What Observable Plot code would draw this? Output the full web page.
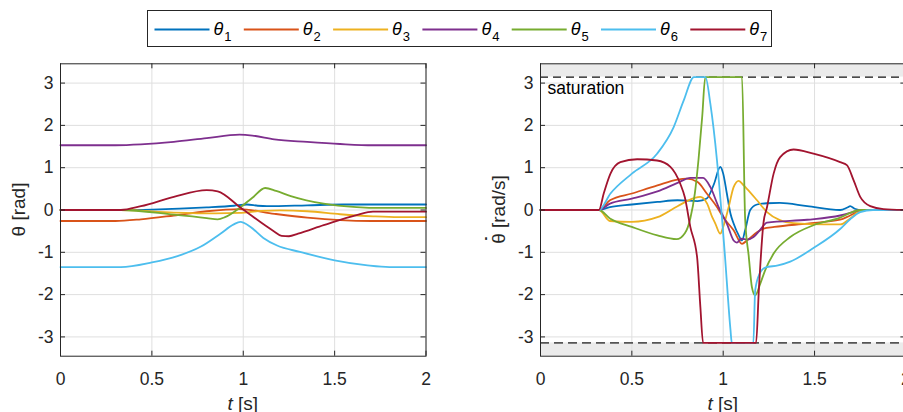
<!DOCTYPE html>
<html>
<head>
<meta charset="utf-8">
<script src="https://cdn.jsdelivr.net/npm/d3@7"></script>
<script src="https://cdn.jsdelivr.net/npm/@observablehq/plot@0.6"></script>
<style>
  body { margin: 0; background: #fff; }
  #wrap { position: relative; width: 903px; height: 412px; overflow: hidden; background: #fff; font-family: "Liberation Sans", Arial, sans-serif; }
  #legend { position: absolute; left: 0; top: 0; }
  #left { position: absolute; left: 0; top: 55px; width: 480px; }
  #right { position: absolute; left: 480px; top: 55px; width: 440px; }
  svg { max-width: none !important; }
</style>
</head>
<body>
<div id="wrap">
  <div id="legend"></div>
  <div id="left"></div>
  <div id="right"></div>
</div>
<script>
// ---------- data ----------
const seriesLabels = ["1", "2", "3", "4", "5", "6", "7"];
const colors = ["#0072BD", "#D95319", "#EDB120", "#7E2F8E", "#77AC30", "#4DBEEE", "#A2142F"];
const xTicks = [0, 0.5, 1, 1.5, 2];
const yTicks = [-3, -2, -1, 0, 1, 2, 3];
const yLimit = 1.1 * Math.PI;
const satLimit = Math.PI;
const satLabel = "saturation";

// joint positions theta [rad]  ([t, value])
const theta1 = [[0,0],[0.35,0],[0.5,0.01],[0.8,0.06],[0.95,0.1],[1.02,0.13],[1.08,0.1],[1.13,0.09],[1.35,0.11],[1.55,0.13],[2,0.13]];
const theta2 = [[0,-0.26],[0.3,-0.26],[0.44,-0.22],[0.62,-0.13],[0.8,-0.03],[0.98,0.02],[1.17,-0.09],[1.35,-0.18],[1.53,-0.24],[1.7,-0.26],[2,-0.26]];
const theta3 = [[0,0],[0.33,0],[0.62,-0.06],[0.85,-0.08],[0.98,-0.07],[1.1,-0.02],[1.2,-0.01],[1.35,-0.03],[1.53,-0.1],[1.71,-0.15],[1.85,-0.17],[2,-0.17]];
const theta4 = [[0,1.53],[0.3,1.53],[0.44,1.55],[0.62,1.61],[0.8,1.7],[0.98,1.78],[1.05,1.76],[1.17,1.67],[1.35,1.61],[1.53,1.56],[1.71,1.53],[2,1.53]];
const theta5 = [[0,0],[0.33,0],[0.62,-0.11],[0.8,-0.19],[0.86,-0.22],[0.9,-0.17],[0.98,0.05],[1.05,0.29],[1.12,0.52],[1.18,0.45],[1.26,0.33],[1.44,0.15],[1.62,0.07],[1.75,0.05],[2,0.05]];
const theta6 = [[0,-1.35],[0.33,-1.35],[0.5,-1.24],[0.64,-1.09],[0.766,-0.87],[0.875,-0.56],[0.948,-0.34],[0.984,-0.28],[1.04,-0.4],[1.11,-0.66],[1.185,-0.84],[1.31,-0.99],[1.5,-1.19],[1.68,-1.31],[1.8,-1.35],[2,-1.35]];
const theta7 = [[0,0],[0.33,0],[0.44,0.09],[0.62,0.31],[0.8,0.47],[0.86,0.44],[0.984,0.06],[1.167,-0.5],[1.21,-0.61],[1.25,-0.62],[1.3,-0.56],[1.44,-0.36],[1.62,-0.12],[1.71,-0.04],[2,-0.04]];

// joint velocities theta-dot [rad/s]
const dtheta1 = [[0,0],[0.32,0],[0.38,0.07],[0.5,0.13],[0.64,0.19],[0.75,0.23],[0.86,0.21],[0.91,0.27],[0.95,0.62],[0.984,1.02],[1.0,0.86],[1.02,0.39],[1.04,-0.09],[1.057,-0.32],[1.085,-0.6],[1.103,-0.72],[1.12,-0.48],[1.148,0],[1.185,0.13],[1.24,0.16],[1.31,0.17],[1.46,0.09],[1.64,0],[1.68,0.06],[1.695,0.09],[1.72,0.03],[1.76,0],[2,0]];
const dtheta2 = [[0,0],[0.32,0],[0.38,0.23],[0.5,0.39],[0.64,0.58],[0.75,0.72],[0.8,0.74],[0.86,0.66],[0.91,0.39],[0.966,0.07],[1.0,-0.17],[1.057,-0.48],[1.103,-0.8],[1.13,-0.72],[1.187,-0.52],[1.22,-0.44],[1.28,-0.4],[1.46,-0.32],[1.64,-0.23],[1.695,-0.13],[1.77,0],[2,0]];
const dtheta3 = [[0,0],[0.32,0],[0.38,-0.26],[0.5,-0.28],[0.64,-0.17],[0.75,0.09],[0.84,0.28],[0.875,0.31],[0.912,0.15],[0.94,-0.17],[0.957,-0.32],[0.984,-0.56],[1.0,-0.4],[1.03,0.07],[1.057,0.54],[1.085,0.69],[1.112,0.58],[1.13,0.5],[1.185,0.23],[1.24,-0.05],[1.31,-0.24],[1.385,-0.31],[1.55,-0.34],[1.64,-0.34],[1.695,-0.2],[1.76,0],[2,0]];
const dtheta4 = [[0,0],[0.32,0],[0.38,0.15],[0.5,0.27],[0.64,0.44],[0.75,0.64],[0.82,0.76],[0.89,0.76],[0.93,0.54],[0.975,0.07],[1.02,-0.32],[1.057,-0.72],[1.075,-0.77],[1.1,-0.68],[1.13,-0.7],[1.166,-0.64],[1.2,-0.48],[1.24,-0.3],[1.46,-0.23],[1.64,-0.13],[1.695,-0.07],[1.75,0],[2,0]];
const dtheta5 = [[0,0],[0.32,0],[0.38,-0.2],[0.5,-0.4],[0.64,-0.6],[0.745,-0.69],[0.79,-0.55],[0.82,-0.2],[0.845,0.4],[0.865,1.2],[0.885,2.2],[0.902,3.1416],[1.103,3.1416],[1.12,-0.2],[1.14,-1.1],[1.157,-1.82],[1.175,-2.02],[1.203,-1.74],[1.23,-1.42],[1.276,-1.03],[1.367,-0.64],[1.494,-0.36],[1.64,-0.18],[1.695,-0.07],[1.75,0],[2,0]];
const dtheta6 = [[0,0],[0.32,0],[0.383,0.39],[0.5,0.86],[0.638,1.33],[0.729,1.96],[0.784,2.59],[0.84,3.1416],[0.903,3.1416],[0.93,2.5],[0.966,1.17],[0.993,-0.17],[1.01,-1.11],[1.04,-2.84],[1.047,-3.1416],[1.165,-3.1416],[1.175,-1.9],[1.2,-1.5],[1.23,-1.36],[1.3,-1.31],[1.367,-1.22],[1.494,-0.9],[1.64,-0.45],[1.695,-0.22],[1.75,-0.05],[1.82,0],[2,0]];
const dtheta7 = [[0,0],[0.32,0],[0.346,0.39],[0.383,0.86],[0.437,1.13],[0.529,1.2],[0.638,1.17],[0.711,1.02],[0.765,0.62],[0.79,0.3],[0.82,-0.4],[0.857,-1.11],[0.875,-2.29],[0.89,-3.1416],[1.18,-3.1416],[1.195,-1.9],[1.22,-0.32],[1.24,0.07],[1.276,0.86],[1.312,1.25],[1.385,1.43],[1.494,1.33],[1.64,1.13],[1.677,1.06],[1.714,0.7],[1.75,0.31],[1.805,0.09],[1.877,0.02],[2,0]];

const thetaSeries = [theta1, theta2, theta3, theta4, theta5, theta6, theta7];
const dthetaSeries = [dtheta1, dtheta2, dtheta3, dtheta4, dtheta5, dtheta6, dtheta7];

// ---------- style ----------
const FONT = '"Liberation Sans", Arial, Helvetica, sans-serif';
const AXIS = "#262626";
const GRID = "#dfdfdf";
const H = 357, MT = 8.3, MB = 56.3, ML = 60;

function makePanel(series, width, marginRight, withSat) {
  const frameW = width - ML - marginRight;
  const frameH = H - MT - MB;
  const marks = [];
  if (withSat) {
    marks.push(Plot.rect([{lo: satLimit, hi: yLimit}, {lo: -yLimit, hi: -satLimit}], {y1: "lo", y2: "hi", fill: "#ebebeb"}));
  }
  marks.push(
    Plot.gridX(xTicks, {stroke: GRID, strokeOpacity: 1, strokeWidth: 1}),
    Plot.gridY(yTicks, {stroke: GRID, strokeOpacity: 1, strokeWidth: 1})
  );
  if (withSat) {
    marks.push(
      Plot.ruleY([satLimit], {stroke: "#111", strokeWidth: 1.3, strokeDasharray: "8,5"}),
      Plot.ruleY([-satLimit], {stroke: "#555", strokeWidth: 1.6, strokeDasharray: "9,5"}),
      Plot.text([{t: 0, v: satLimit, label: satLabel}], {x: "t", y: "v", text: "label", dx: 7, dy: 11, textAnchor: "start", lineAnchor: "middle", fontSize: 17.5, fill: "#000"})
    );
  }
  series.forEach((s, i) => {
    marks.push(Plot.line(s, {x: d => d[0], y: d => d[1], stroke: colors[i], strokeWidth: 1.8, curve: "monotone-x"}));
  });
  marks.push(
    Plot.tickX(xTicks, {x: d => d, insetTop: frameH - 5, stroke: AXIS}),
    Plot.tickX(xTicks, {x: d => d, insetBottom: frameH - 5, stroke: AXIS}),
    Plot.tickY(yTicks, {y: d => d, insetRight: frameW - 5, stroke: AXIS}),
    Plot.tickY(yTicks, {y: d => d, insetLeft: frameW - 5, stroke: AXIS}),
    Plot.frame({stroke: AXIS, strokeWidth: 1}),
    Plot.axisX(xTicks, {anchor: "bottom", tickSize: 0, tickPadding: 16, tickFormat: d => String(d), label: null, fontSize: 17.5, fill: AXIS}),
    Plot.axisY(yTicks, {anchor: "left", tickSize: 0, tickPadding: 7, tickFormat: d => String(d), label: null, fontSize: 17.5, fill: AXIS})
  );
  return Plot.plot({
    width, height: H,
    marginLeft: ML, marginRight, marginTop: MT, marginBottom: MB,
    x: {domain: [0, 2]},
    y: {domain: [-yLimit, yLimit]},
    style: {fontFamily: FONT, fontSize: "17px", color: AXIS, background: "transparent", maxWidth: "none"},
    marks
  });
}

function addLabels(plot, yLabel, dotted) {
  const svg = d3.select(plot);
  const xs = plot.scale("x"), ys = plot.scale("y");
  const xl = svg.append("text")
    .attr("x", xs.apply(1)).attr("y", H - 2)
    .attr("text-anchor", "middle")
    .attr("font-family", FONT).attr("font-size", 19).attr("fill", AXIS);
  xl.append("tspan").attr("font-style", "italic").text("t");
  xl.append("tspan").text(" [s]");
  const yl = svg.append("text")
    .attr("transform", `translate(25,${ys.apply(0)}) rotate(-90)`)
    .attr("text-anchor", "middle")
    .attr("font-family", FONT).attr("font-size", 19).attr("fill", AXIS);
  yl.append("tspan").text("θ");
  if (dotted) {
    yl.append("tspan").attr("dx", "-0.45em").attr("dy", "-0.32em").attr("font-weight", "bold").text("\u02D9");
    yl.append("tspan").attr("dx", "0.11em").attr("dy", "0.32em").text(" " + yLabel);
  } else {
    yl.append("tspan").text(" " + yLabel);
  }
}

const left = makePanel(thetaSeries, 480, 54.5, false);
addLabels(left, "[rad]", false);
document.getElementById("left").appendChild(left);

const right = makePanel(dthetaSeries, 440, 14.6, true);
addLabels(right, "[rad/s]", true);
document.getElementById("right").appendChild(right);

// ---------- legend ----------
const lg = d3.select("#legend").append("svg").attr("width", 903).attr("height", 55);
lg.append("rect").attr("x", 147.5).attr("y", 10.5).attr("width", 624).attr("height", 36)
  .attr("fill", "#fff").attr("stroke", AXIS).attr("stroke-width", 1);
seriesLabels.forEach((lab, i) => {
  const x0 = 154.5 + i * 89.3;
  lg.append("line").attr("x1", x0).attr("x2", x0 + 55).attr("y1", 29.5).attr("y2", 29.5)
    .attr("stroke", colors[i]).attr("stroke-width", 1.8);
  const t = lg.append("text").attr("x", x0 + 59).attr("y", 35)
    .attr("font-family", FONT).attr("font-size", 18).attr("fill", "#000");
  t.append("tspan").attr("font-style", "italic").text("θ");
  t.append("tspan").attr("font-size", 13).attr("dx", 1).attr("dy", 6).text(lab);
});
</script>
</body>
</html>
